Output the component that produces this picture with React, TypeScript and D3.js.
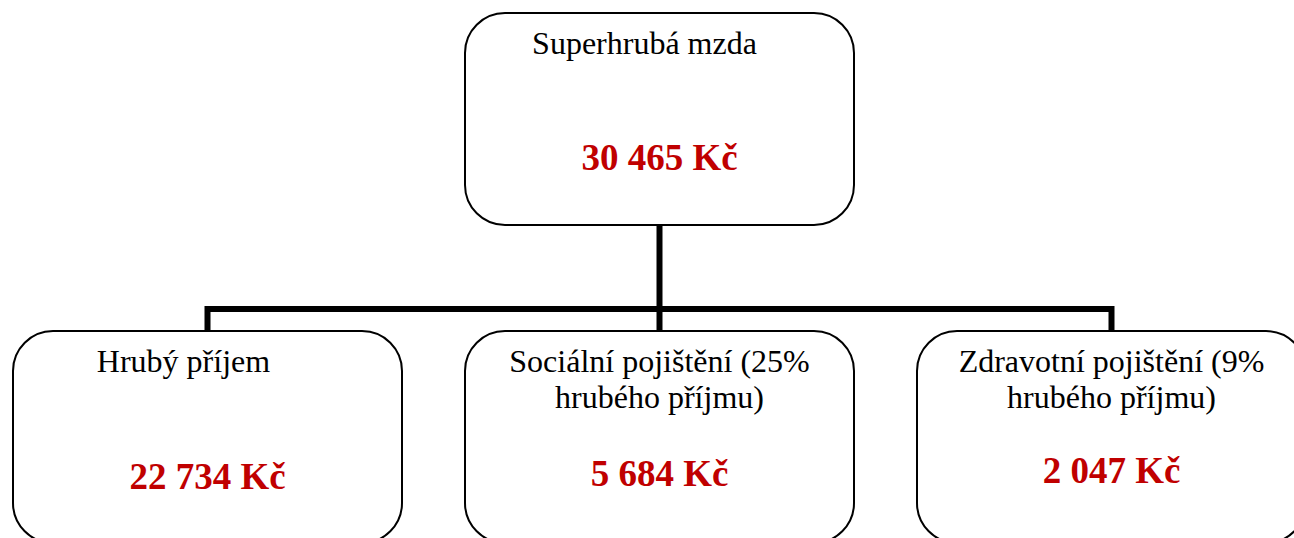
import React from "react";
import * as d3 from "d3";

// ---- data ----
const rootLabel: string[] = ["Superhrubá mzda"];
const rootValue = 30465;
const childIds = ["hruby", "socialni", "zdravotni"];
const childLabels: string[][] = [
  ["Hrubý příjem"],
  ["Sociální pojištění (25%", "hrubého příjmu)"],
  ["Zdravotní pojištění (9%", "hrubého příjmu)"],
];
const childValues = [22734, 5684, 2047];

// ---- layout constants ----
const W = 1294;
const H = 538;
const BOX_W = 389;
const BOX_H = 212;
const ROOT_Y = 13;
const CHILD_Y = 331;
const BUS_Y = 309;
const RADIUS = 40;
const RED = "#C00000";

const locale = d3.formatLocale({ decimal: ",", thousands: " ", grouping: [3], currency: ["", " Kč"] });
const fmt = (v: number) => locale.format(",d")(v) + " Kč";

export default function App() {
  const x = d3
    .scaleBand<string>()
    .domain(childIds)
    .range([13, 13 + 3 * BOX_W + 2 * 63])
    .paddingInner(63 / (BOX_W + 63))
    .paddingOuter(0);

  const rootX = x(childIds[1]) as number;
  const rootCx = rootX + x.bandwidth() / 2;

  const serif = "'Liberation Serif', 'Times New Roman', serif";

  const children = childIds.map((id, i) => {
    const bx = x(id) as number;
    return { id, bx, cx: bx + x.bandwidth() / 2, lines: childLabels[i], value: childValues[i] };
  });

  // per-node text offsets (title dx, title baselines, value baseline)
  const childTitleDx = [-24, 0, 0];
  const childValueY = [489, 486, 483];

  const bus = d3.path();
  bus.moveTo(children[0].cx, CHILD_Y);
  bus.lineTo(children[0].cx, BUS_Y);
  bus.lineTo(children[2].cx, BUS_Y);
  bus.lineTo(children[2].cx, CHILD_Y);

  const trunk = d3.path();
  trunk.moveTo(rootCx, ROOT_Y + BOX_H);
  trunk.lineTo(rootCx, CHILD_Y);

  return (
    <svg
      width={W}
      height={H}
      style={{ position: "absolute", left: 0, top: 0, background: "#fff" }}
    >
      <rect x={0} y={0} width={W} height={H} fill="#fff" />
      <path d={trunk.toString()} fill="none" stroke="#000" strokeWidth={6} />
      <path d={bus.toString()} fill="none" stroke="#000" strokeWidth={6} strokeLinejoin="miter" />

      {/* root box */}
      <rect
        x={rootX}
        y={ROOT_Y}
        width={x.bandwidth()}
        height={BOX_H}
        rx={RADIUS}
        ry={RADIUS}
        fill="#fff"
        stroke="#000"
        strokeWidth={2}
      />
      <text x={rootCx - 15} y={54} textAnchor="middle" fontFamily={serif} fontSize={32} fill="#000">
        {rootLabel[0]}
      </text>
      <text x={rootCx} y={170} textAnchor="middle" fontFamily={serif} fontSize={37} fontWeight="bold" fill={RED}>
        {fmt(rootValue)}
      </text>

      {children.map((c, i) => (
        <g key={c.id}>
          <rect
            x={c.bx}
            y={CHILD_Y}
            width={x.bandwidth()}
            height={BOX_H}
            rx={RADIUS}
            ry={RADIUS}
            fill="#fff"
            stroke="#000"
            strokeWidth={2}
          />
          {c.lines.map((ln, j) => (
            <text
              key={j}
              x={c.cx + childTitleDx[i]}
              y={372 + j * 35.5}
              textAnchor="middle"
              fontFamily={serif}
              fontSize={32}
              fill="#000"
            >
              {ln}
            </text>
          ))}
          <text
            x={c.cx}
            y={childValueY[i]}
            textAnchor="middle"
            fontFamily={serif}
            fontSize={37}
            fontWeight="bold"
            fill={RED}
          >
            {fmt(c.value)}
          </text>
        </g>
      ))}
    </svg>
  );
}
